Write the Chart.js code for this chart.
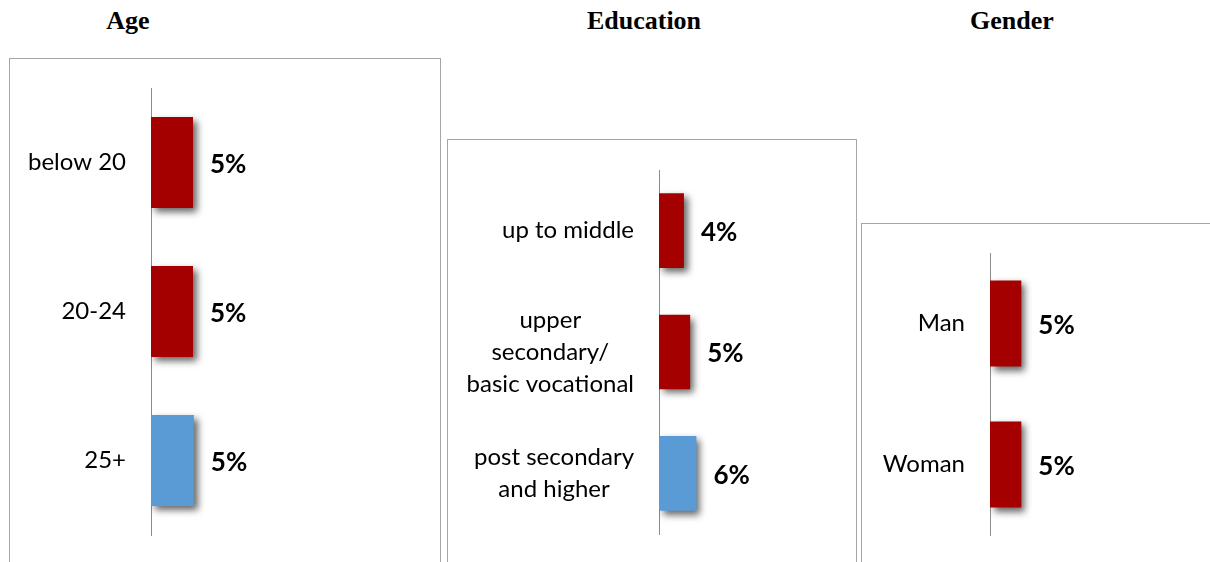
<!DOCTYPE html>
<html lang="en">
<head>
<meta charset="UTF-8">
<title>Age, Education, Gender</title>
<script src="https://cdn.jsdelivr.net/npm/chart.js@4"></script>
<style>
  * { box-sizing: border-box; margin: 0; padding: 0; }
  html, body { width: 1210px; height: 562px; overflow: hidden; background: #fff; }
  .title { position: absolute; top: 8px; width: 200px; text-align: center; font: bold 26px 'Liberation Serif', 'Times New Roman', serif; line-height: 26px; color: #000; }
  .panel { position: absolute; border: 1px solid #a6a6a6; background: #fff; }
  .panel canvas { display: block; }
</style>
</head>
<body>
  <div class="title" style="left:28px">Age</div>
  <div class="title" style="left:544px">Education</div>
  <div class="title" style="left:912px">Gender</div>

  <div class="panel" style="left:9px;top:58px"><canvas id="age" width="430" height="520"></canvas></div>
  <div class="panel" style="left:447px;top:139px"><canvas id="edu" width="408" height="520"></canvas></div>
  <div class="panel" style="left:861px;top:223px"><canvas id="gender" width="400" height="520"></canvas></div>

  <script>
    // data (percent)
    const ageLabels = ['below 20', '20-24', '25+'];
    const ageValues = [5.0, 5.0, 5.1];

    const eduLabels = [['up to middle'], ['upper', 'secondary/', 'basic vocational'], ['post secondary', 'and higher']];
    const eduValues = [4.0, 5.0, 6.0];

    const genderLabels = ['Man', 'Woman'];
    const genderValues = [5.0, 5.0];

    const RED = '#a50000';
    const BLUE = '#5b9bd5';

    // drop shadow under the bars
    const shadowPlugin = {
      id: 'barShadow',
      beforeDatasetsDraw(chart) {
        const c = chart.ctx;
        c.save();
        c.shadowColor = 'rgba(0,0,0,0.6)';
        c.shadowBlur = 7;
        c.shadowOffsetX = 4;
        c.shadowOffsetY = 4;
      },
      afterDatasetsDraw(chart) { chart.ctx.restore(); }
    };

    // category names (lines centred in a right-aligned block) + value labels
    const labelPlugin = {
      id: 'labels',
      afterDatasetsDraw(chart) {
        const { ctx, chartArea, scales: { y } } = chart;
        ctx.save();
        ctx.fillStyle = '#000';
        ctx.textBaseline = 'middle';

        ctx.font = '24px Lato';
        ctx.textAlign = 'center';
        chart.data.labels.forEach((label, i) => {
          const lines = [].concat(label);
          const w = Math.max(...lines.map(l => ctx.measureText(l).width));
          const cx = chartArea.left - 25 - w / 2;
          const cy = y.getPixelForValue(i);
          lines.forEach((l, j) => ctx.fillText(l, cx, cy + (j - (lines.length - 1) / 2) * 32));
        });

        ctx.font = 'bold 26px Lato';
        ctx.textAlign = 'left';
        const values = chart.data.datasets[0].data;
        chart.getDatasetMeta(0).data.forEach((bar, i) => {
          ctx.fillText(Math.round(values[i]) + '%', bar.x + 17, bar.y + 2);
        });
        ctx.restore();
      }
    };

    function makeChart(id, labels, values, o) {
      const last = values.length - 1;
      return new Chart(document.getElementById(id), {
        type: 'bar',
        data: {
          labels,
          datasets: [{
            data: values,
            backgroundColor: ctx => (o.highlightLast && ctx.dataIndex === last) ? BLUE : RED,
            categoryPercentage: 1,
            barPercentage: o.bar
          }]
        },
        options: {
          indexAxis: 'y',
          responsive: false,
          animation: false,
          layout: { padding: { top: o.top, bottom: o.bottom, right: o.right, left: 0 } },
          plugins: { legend: { display: false }, tooltip: { enabled: false } },
          scales: {
            x: { display: false, min: 0, max: 30 },
            y: {
              grid: { display: false, drawTicks: false },
              border: { color: '#8c8c8c', width: 1 },
              ticks: { display: false },
              afterFit: s => { s.width = o.axis; }
            }
          }
        },
        plugins: [shadowPlugin, labelPlugin]
      });
    }

    makeChart('age', ageLabels, ageValues, { axis: 141, top: 29, bottom: 44, right: 37, bar: 0.61, highlightLast: true });
    makeChart('edu', eduLabels, eduValues, { axis: 211, top: 30, bottom: 126, right: 10, bar: 0.615, highlightLast: true });
    makeChart('gender', genderLabels, genderValues, { axis: 128, top: 29, bottom: 209, right: 84, bar: 0.61, highlightLast: false });
  </script>
</body>
</html>
